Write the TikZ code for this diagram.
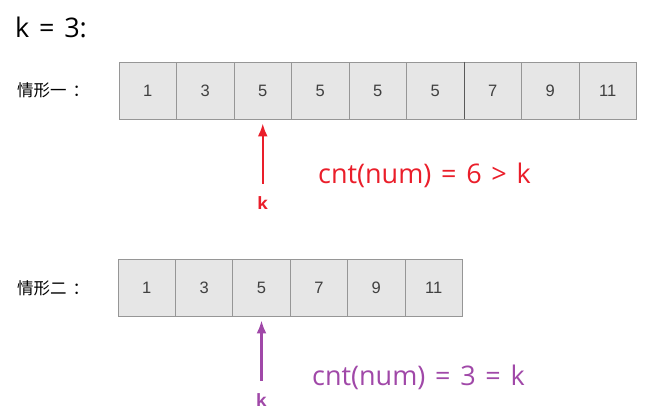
\documentclass[tikz,border=0pt]{standalone}
\usepackage{fontspec}
\setmainfont{Liberation Sans}
\newfontfamily\latinfont{Open Sans}
\newfontfamily\cjkfont{Noto Sans CJK SC}
\usetikzlibrary{arrows.meta, positioning}
\definecolor{cellgray}{RGB}{230, 230, 230}
\definecolor{cellline}{RGB}{150, 150, 150}
\definecolor{hitred}{RGB}{234, 30, 42}
\definecolor{hitpurple}{RGB}{160, 72, 168}
\newcommand{\widespace}{\spaceskip=0.36em\relax}

\begin{document}
\begin{tikzpicture}[x=1pt, y=-1pt,
  cell/.style={draw=cellline, line width=0.8pt, fill=cellgray, minimum width=57.5pt, minimum height=57pt, inner sep=0pt, font=\fontsize{16.5}{16.5}\selectfont, text=black!75},
  rowlabel/.style={anchor=west, inner sep=0pt, font=\cjkfont\fontsize{16.5}{16.5}\selectfont},
  ptr/.style={-{Latex[length=13pt, width=10pt]}, line width=2.4pt, shorten <=12pt},
  klabel/.style={inner sep=1pt, font=\latinfont\bfseries\fontsize{17}{17}\selectfont},
  cnt/.style={anchor=west, inner sep=0pt, font=\latinfont\fontsize{27}{27}\selectfont}]
  \useasboundingbox (0,0) rectangle (645,416);

  \node[anchor=west, inner sep=0pt, font=\latinfont\fontsize{27}{27}\selectfont] (title) at (15,27) {\widespace k = 3:};

  % case one
  \node[rowlabel] (lab1) at (17,90) {情形一\hspace{6pt}：};
  \foreach \v [count=\i] in {1,3,5,5,5,5,7,9,11}
    \node[cell] (a\i) at (119+57.5*\i-28.75, 90.5) {\v};
  \draw[black!65, line width=1.2pt] (a6.north east) -- (a6.south east);

  \path (a3.south) ++(0,84) node[klabel, text=hitred] (k1) {k};
  \draw[ptr, hitred] (k1.north) -- ([yshift=-4pt]a3.south);
  \node[cnt, text=hitred] (cnt1) at (318,175) {\widespace cnt(num) = 6 > k};

  % case two
  \node[rowlabel] (lab2) at (17,288) {情形二\hspace{6pt}：};
  \foreach \v [count=\i] in {1,3,5,7,9,11}
    \node[cell] (b\i) at (118+57.4*\i-28.7, 287.5) {\v};

  \path (b3.south) ++(0,84) node[klabel, text=hitpurple] (k2) {k};
  \draw[ptr, hitpurple] (k2.north) -- ([yshift=-4pt]b3.south);
  \node[cnt, text=hitpurple] (cnt2) at (312,377) {\widespace cnt(num) = 3 = k};
\end{tikzpicture}
\end{document}
